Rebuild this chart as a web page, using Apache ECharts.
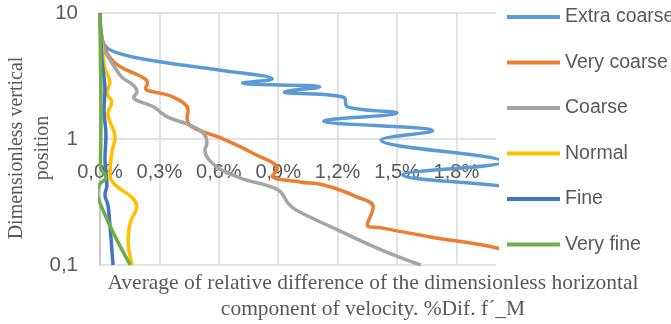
<!DOCTYPE html>
<html>
<head>
<meta charset="utf-8">
<script src="https://cdn.jsdelivr.net/npm/echarts@6/dist/echarts.min.js"></script>
<style>
  html, body { margin: 0; padding: 0; background: #fff; }
  #chart { width: 671px; height: 324px; }
</style>
</head>
<body>
<div id="chart"></div>
<script>
// Mesh names, in legend order
const meshNames = ['Extra coarse', 'Very coarse', 'Coarse', 'Normal', 'Fine', 'Very fine'];

// Dimensionless vertical position (y) and average relative difference in % (x) for each mesh
const extraCoarsePos = [10, 5.9, 4.9, 4.08, 3.53, 2.99, 2.78, 2.59, 2.36, 2.15, 1.80, 1.61, 1.39, 1.16, 0.98, 0.66, 0.52, 0.41, 0.3, 0.2, 0.1];
const extraCoarseDif = [0, 0.015, 0.076, 0.31, 0.60, 0.87, 0.72, 1.11, 0.93, 1.23, 1.25, 1.50, 1.13, 1.68, 1.42, 2.03, 1.53, 2.1, 2.6, 3.0, 3.3];

const veryCoarsePos = [10, 5.78, 4.01, 3.05, 2.78, 2.54, 2.15, 1.70, 1.47, 1.245, 1.02, 0.774, 0.578, 0.508, 0.456, 0.431, 0.346, 0.289, 0.208, 0.197, 0.167, 0.136, 0.1];
const veryCoarseDif = [0, 0.015, 0.076, 0.22, 0.24, 0.23, 0.37, 0.445, 0.44, 0.465, 0.61, 0.77, 0.895, 0.87, 1.01, 1.13, 1.30, 1.38, 1.35, 1.42, 1.67, 2.01, 2.3];

const coarsePos = [10, 5.37, 4.01, 3.10, 2.68, 2.36, 2.15, 1.80, 1.50, 1.29, 1.12, 0.93, 0.818, 0.60, 0.49, 0.394, 0.31, 0.273, 0.19, 0.132, 0.1];
const coarseDif = [0, 0.015, 0.061, 0.11, 0.167, 0.187, 0.17, 0.27, 0.34, 0.455, 0.52, 0.54, 0.53, 0.59, 0.71, 0.90, 0.95, 0.99, 1.20, 1.42, 1.62];

const normalPos = [10, 6.1, 3.66, 2.83, 2.32, 1.97, 1.61, 1.02, 0.79, 0.52, 0.29, 0.215, 0.158, 0.1];
const normalDif = [0, 0.005, 0.025, 0.05, 0.035, 0.06, 0.04, 0.076, 0.06, 0.05, 0.185, 0.152, 0.142, 0.162];

const finePos = [10, 4.2, 2.45, 1.7, 1.08, 0.68, 0.43, 0.36, 0.30, 0.208, 0.1];
const fineDif = [0, 0.01, 0.025, 0.02, 0.03, 0.025, 0.035, 0.025, 0.04, 0.05, 0.066];

const veryFinePos = [10, 4.2, 2.04, 1.0, 0.6, 0.5, 0.43, 0.37, 0.31, 0.19, 0.1];
const veryFineDif = [0, 0.002, 0.005, 0.004, 0.002, 0.03, -0.005, -0.015, 0.0, 0.06, 0.152];

// Axis ticks
const xTicks = [0, 0.3, 0.6, 0.9, 1.2, 1.5, 1.8];
const yTicks = [0.1, 1, 10];

const meshColors = ['#5B9BD5', '#ED7D31', '#A5A5A5', '#FFC000', '#4472C4', '#70AD47'];

const profiles = [
  [extraCoarseDif, extraCoarsePos],
  [veryCoarseDif, veryCoarsePos],
  [coarseDif, coarsePos],
  [normalDif, normalPos],
  [fineDif, finePos],
  [veryFineDif, veryFinePos]
];

const sansFont = '"Liberation Sans", Arial, sans-serif';
const serifFont = '"Liberation Serif", "Times New Roman", serif';
const textGrey = '#595959';

const chart = echarts.init(document.getElementById('chart'), null, { renderer: 'canvas' });

const gridTop = 13, gridBottom = 59;
const gridHeight = 324 - gridTop - gridBottom;

chart.setOption({
  animation: false,
  backgroundColor: '#fff',
  grid: {
    left: 100, right: 175, top: gridTop, bottom: gridBottom,
    containLabel: false,
    outerBoundsMode: 'none'
  },
  legend: {
    orient: 'vertical',
    left: 507,
    top: 7,
    padding: 0,
    icon: 'rect',
    itemWidth: 53,
    itemHeight: 4,
    itemGap: 25.5,
    data: meshNames,
    textStyle: { fontFamily: sansFont, fontSize: 19.5, color: textGrey }
  },
  xAxis: {
    type: 'value',
    min: 0,
    max: 2.0,
    interval: 0.3,
    // the horizontal axis crosses the vertical one at position 1
    offset: -gridHeight / 2,
    axisLine: { show: false },
    axisTick: { show: false },
    splitLine: { show: true, showMaxLine: false, lineStyle: { color: '#D9D9D9', width: 1.5 } },
    axisLabel: {
      showMaxLabel: false,
      margin: 23,
      fontFamily: sansFont,
      fontSize: 20,
      color: textGrey,
      formatter: v => xTicks.some(t => Math.abs(t - v) < 1e-9) ? v.toFixed(1).replace('.', ',') + '%' : ''
    }
  },
  yAxis: {
    type: 'log',
    logBase: 10,
    min: 0.1,
    max: 10,
    axisLine: { show: true, lineStyle: { color: '#BFBFBF', width: 1.5 } },
    axisTick: { show: false },
    splitLine: { show: true, lineStyle: { color: '#D9D9D9', width: 1.5 } },
    axisLabel: {
      margin: 22,
      fontFamily: sansFont,
      fontSize: 20.5,
      color: textGrey,
      formatter: v => yTicks.some(t => Math.abs(t - v) < 1e-9) ? String(v).replace('.', ',') : ''
    }
  },
  graphic: [{
    type: 'text',
    x: 30,
    y: 148,
    rotation: Math.PI / 2,
    style: {
      text: 'Dimensionless vertical\nposition',
      textAlign: 'center',
      textVerticalAlign: 'middle',
      fontFamily: serifFont,
      fontSize: 20,
      lineHeight: 26,
      fill: textGrey
    }
  }, {
    type: 'text',
    x: 373,
    y: 296,
    style: {
      text: 'Average of relative difference of the dimensionless horizontal\ncomponent of velocity. %Dif. f´_M',
      textAlign: 'center',
      textVerticalAlign: 'middle',
      fontFamily: serifFont,
      fontSize: 21.5,
      lineHeight: 26,
      fill: textGrey
    }
  }],
  series: profiles.map((p, i) => ({
    name: meshNames[i],
    type: 'line',
    smooth: 0.4,
    showSymbol: false,
    symbol: 'none',
    clip: true,
    color: meshColors[i],
    lineStyle: { color: meshColors[i], width: 3.5 },
    data: p[0].map((d, k) => [d, p[1][k]])
  }))
});
</script>
</body>
</html>
